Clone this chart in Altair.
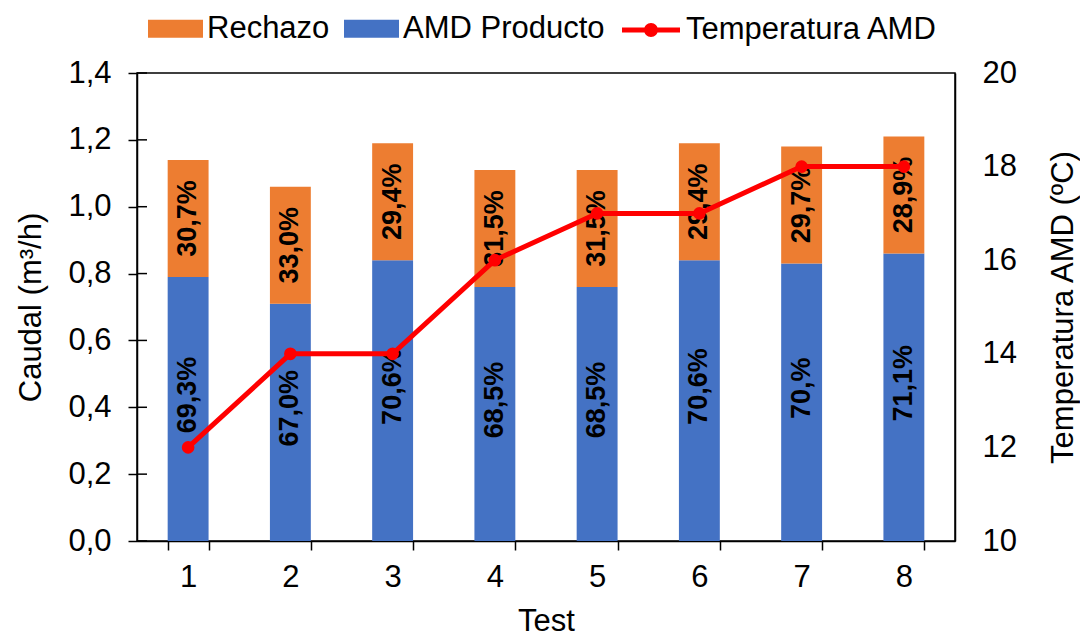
import altair as alt
import pandas as pd

# Flow per test (m3/h) and product/reject shares
tests = [1, 2, 3, 4, 5, 6, 7, 8]
caudal_total = [1.14, 1.06, 1.19, 1.11, 1.11, 1.19, 1.18, 1.21]
caudal_producto = [0.79, 0.71, 0.84, 0.76, 0.76, 0.84, 0.83, 0.86]
pct_producto = ["69,3%", "67,0%", "70,6%", "68,5%", "68,5%", "70,6%", "70,%", "71,1%"]
pct_rechazo = ["30,7%", "33,0%", "29,4%", "31,5%", "31,5%", "29,4%", "29,7%", "28,9%"]
temperatura = [12, 14, 14, 16, 17, 17, 18, 18]

caudal_ticks = [0.0, 0.2, 0.4, 0.6, 0.8, 1.0, 1.2, 1.4]
temp_ticks = [10, 12, 14, 16, 18, 20]

FONT = "Liberation Sans"
ORANGE = "#ED7D31"
BLUE = "#4472C4"
RED = "#FF0000"
FS = 31

rows = []
for t, tot, prod, pp, pr in zip(tests, caudal_total, caudal_producto, pct_producto, pct_rechazo):
    rows.append(dict(test=t, serie="AMD Producto", base=0.0, top=prod, mid=prod / 2, pct=pp))
    rows.append(dict(test=t, serie="Rechazo", base=prod, top=tot, mid=(prod + tot) / 2, pct=pr))
bars_df = pd.DataFrame(rows)
temp_df = pd.DataFrame({"test": tests, "temp": temperatura, "serie": "Temperatura AMD"})
ticks_df = pd.DataFrame({"v": caudal_ticks})

x_enc = alt.X(
    "test:O",
    scale=alt.Scale(paddingInner=0.6, paddingOuter=0.3),
    axis=alt.Axis(title="Test", labelAngle=0, tickBand="extent", tickSize=9,
                  labelPadding=12, titlePadding=14),
)

left_scale = alt.Scale(domain=[0, 1.4], nice=False, zero=True)
left_axis = alt.Axis(
    title="Caudal (m³/h)", values=caudal_ticks, tickSize=9, labelPadding=17,
    titlePadding=20,
    labelExpr="replace(format(datum.value, '.1f'), '.', ',')",
)

# legend glyphs: a wide swatch for the bars, a thick line with a dot for the series
bar_path = "M-1,-0.33L1,-0.33L1,0.33L-1,0.33Z"
line_path = ("M-1,-0.09L1,-0.09L1,0.09L-1,0.09Z "
             "M-0.24,0A0.24,0.24 0 1,1 0.24,0A0.24,0.24 0 1,1 -0.24,0Z")

bars = alt.Chart(bars_df).mark_bar().encode(
    x=x_enc,
    y=alt.Y("base:Q", scale=left_scale, axis=left_axis),
    y2="top:Q",
    color=alt.Color(
        "serie:N",
        scale=alt.Scale(domain=["Rechazo", "AMD Producto"], range=[ORANGE, BLUE]),
        legend=alt.Legend(
            orient="none", legendX=11, legendY=-72, direction="horizontal",
            title=None, symbolType=bar_path, symbolSize=3025,
            symbolStrokeWidth=0, labelFontSize=FS, labelFont=FONT,
            labelColor="black", labelOffset=4, columnPadding=14, labelLimit=400,
        ),
    ),
)

labels_rechazo = alt.Chart(bars_df).transform_filter(
    alt.datum.serie == "Rechazo"
).mark_text(angle=270, fontSize=27, fontWeight="bold", font=FONT, color="black").encode(
    x=x_enc,
    y=alt.Y("mid:Q", scale=left_scale, axis=left_axis),
    text="pct:N",
)

labels_producto = alt.Chart(bars_df).transform_filter(
    alt.datum.serie == "AMD Producto"
).mark_text(angle=270, dx=14, fontSize=27, fontWeight="bold", font=FONT, color="black").encode(
    x=x_enc,
    y=alt.Y("mid:Q", scale=left_scale, axis=left_axis),
    text="pct:N",
)

# inner half of the crossing ticks on the left axis
inner_ticks = alt.Chart(ticks_df).mark_rule(color="black", strokeWidth=1.5).encode(
    y=alt.Y("v:Q", scale=left_scale, axis=left_axis),
    x=alt.value(0),
    x2=alt.value(10),
)

left = alt.layer(bars, labels_rechazo, labels_producto, inner_ticks)

right_scale = alt.Scale(domain=[10, 20], nice=False, zero=False)
right_axis = alt.Axis(
    orient="right", title="Temperatura AMD (ºC)", values=temp_ticks, tickSize=0,
    labelPadding=27, titleAngle=270, titleBaseline="top", titlePadding=32,
)

line = alt.Chart(temp_df).mark_line(color=RED, strokeWidth=5).encode(
    x=x_enc,
    y=alt.Y("temp:Q", scale=right_scale, axis=right_axis),
)
points = alt.Chart(temp_df).mark_circle(size=160, opacity=1).encode(
    x=x_enc,
    y=alt.Y("temp:Q", scale=right_scale, axis=right_axis),
    color=alt.Color(
        "serie:N",
        scale=alt.Scale(domain=["Temperatura AMD"], range=[RED]),
        legend=alt.Legend(
            orient="none", legendX=485, legendY=-72, title=None,
            symbolType=line_path, symbolSize=3364, symbolStrokeWidth=0,
            symbolFillColor=RED, symbolStrokeColor=RED,
            symbolOpacity=1, labelFontSize=FS, labelFont=FONT,
            labelColor="black", labelOffset=6, labelLimit=400,
        ),
    ),
)
right = alt.layer(line, points)

chart = alt.layer(left, right).resolve_scale(
    y="independent", color="independent"
).properties(
    width=818,
    height=468,
    padding={"left": 137, "top": 73, "right": 125, "bottom": 95},
    autosize=alt.AutoSizeParams(type="none"),
    background="white",
).configure_view(
    stroke="black", strokeWidth=1.5,
).configure_axis(
    grid=False, domainColor="black", domainWidth=1.5, tickColor="black",
    tickWidth=1.5, labelColor="black", titleColor="black",
    labelFont=FONT, titleFont=FONT, labelFontSize=FS, titleFontSize=FS,
    titleFontWeight="normal",
)

chart.save("out.html", embed_options={"renderer": "svg", "actions": False})
